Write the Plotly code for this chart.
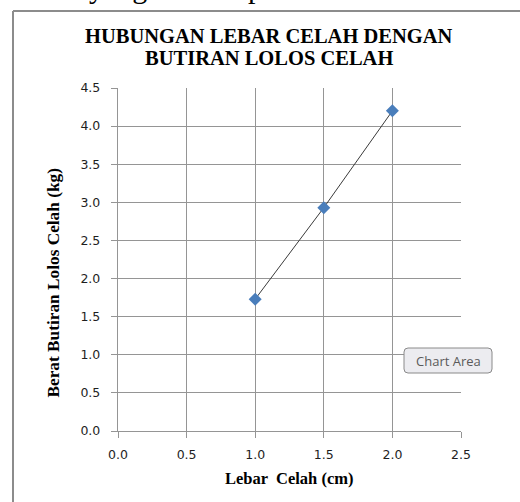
import plotly.graph_objects as go

# Data: gap width vs. weight of grains passing through
lebar_celah = [1.0, 1.5, 2.0]          # cm
berat_butiran = [1.73, 2.93, 4.20]     # kg

x_ticks = [0.0, 0.5, 1.0, 1.5, 2.0, 2.5]
y_ticks = [0.0, 0.5, 1.0, 1.5, 2.0, 2.5, 3.0, 3.5, 4.0, 4.5]

W, H = 520, 502
ML, MR, MT, MB = 118, 59, 88, 71
PW, PH = W - ML - MR, H - MT - MB


def px(xp):
    return (xp - ML) / PW


def py(yp):
    return (H - MB - yp) / PH


grid = "#959595"
serif = "Liberation Serif, Times New Roman, serif"

fig = go.Figure()
fig.add_trace(go.Scatter(
    x=lebar_celah, y=berat_butiran, mode="lines+markers",
    line=dict(color="#3a3a3a", width=1),
    marker=dict(symbol="diamond", size=10, color="#4a7ebb"),
    showlegend=False, hoverinfo="skip",
))

axis_common = dict(
    showgrid=True, gridcolor=grid, gridwidth=1.4,
    showline=True, linecolor=grid, linewidth=1.4,
    ticks="outside", ticklen=6, tickcolor=grid, tickwidth=1.4,
    tickfont=dict(family="DejaVu Sans, Verdana, sans-serif", size=12.5, color="#1e1e1e"),
    zeroline=False, fixedrange=True,
)

fig.update_xaxes(range=[0, 2.5], tickvals=x_ticks, ticktext=[f"{v:.1f}" for v in x_ticks],
                 mirror=False, ticklabelstandoff=6, **axis_common)
fig.update_yaxes(range=[0, 4.5], tickvals=y_ticks, ticktext=[f"{v:.1f}" for v in y_ticks],
                 ticklabelstandoff=8, **axis_common)

# Chart area frame (extends past the right and bottom edges)
fig.add_shape(type="line", xref="paper", yref="paper",
              x0=px(13), y0=py(11), x1=px(W + 10), y1=py(11),
              line=dict(color="#8c8c8c", width=2), layer="above")
fig.add_shape(type="line", xref="paper", yref="paper",
              x0=px(13), y0=py(11), x1=px(13), y1=py(H + 10),
              line=dict(color="#8c8c8c", width=2), layer="above")

# Rounded "Chart Area" tooltip box
bx0, by0, bx1, by1, r = 404, 348, 492, 373, 4
path = (f"M {px(bx0 + r)} {py(by0)} L {px(bx1 - r)} {py(by0)} "
        f"Q {px(bx1)} {py(by0)} {px(bx1)} {py(by0 + r)} "
        f"L {px(bx1)} {py(by1 - r)} Q {px(bx1)} {py(by1)} {px(bx1 - r)} {py(by1)} "
        f"L {px(bx0 + r)} {py(by1)} Q {px(bx0)} {py(by1)} {px(bx0)} {py(by1 - r)} "
        f"L {px(bx0)} {py(by0 + r)} Q {px(bx0)} {py(by0)} {px(bx0 + r)} {py(by0)} Z")
fig.add_shape(type="path", xref="paper", yref="paper", path=path,
              fillcolor="#ececf0", line=dict(color="#8a8a8a", width=1), layer="above")

annotations = [
    dict(text="<b>HUBUNGAN LEBAR CELAH DENGAN</b>", x=px(269), y=py(36),
         font=dict(family=serif, size=20.5, color="#000000")),
    dict(text="<b>BUTIRAN LOLOS CELAH</b>", x=px(269), y=py(58),
         font=dict(family=serif, size=20.5, color="#000000")),
    dict(text="<b>Lebar  Celah (cm)</b>", x=px(289), y=py(478),
         font=dict(family=serif, size=16.5, color="#000000")),
    dict(text="<b>Berat Butiran Lolos Celah (kg)</b>", x=px(53), y=py(283.5), textangle=-90,
         font=dict(family=serif, size=17.3, color="#000000")),
    dict(text="Chart Area", x=px(448), y=py(360.5),
         font=dict(family="Open Sans, Noto Sans, sans-serif", size=13, color="#5a5a5a")),
    dict(text="yang", x=px(118), y=py(-12),
         font=dict(family=serif, size=30, color="#000000")),
    dict(text="p", x=px(255), y=py(-12),
         font=dict(family=serif, size=30, color="#000000")),
]
for a in annotations:
    a.update(xref="paper", yref="paper", showarrow=False,
             xanchor="center", yanchor="middle")
fig.update_layout(annotations=annotations)

fig.update_layout(
    width=W, height=H,
    margin=dict(l=ML, r=MR, t=MT, b=MB, pad=0),
    paper_bgcolor="#ffffff", plot_bgcolor="#ffffff",
    showlegend=False,
)

fig.write_html("out.html", config={"displayModeBar": False})
